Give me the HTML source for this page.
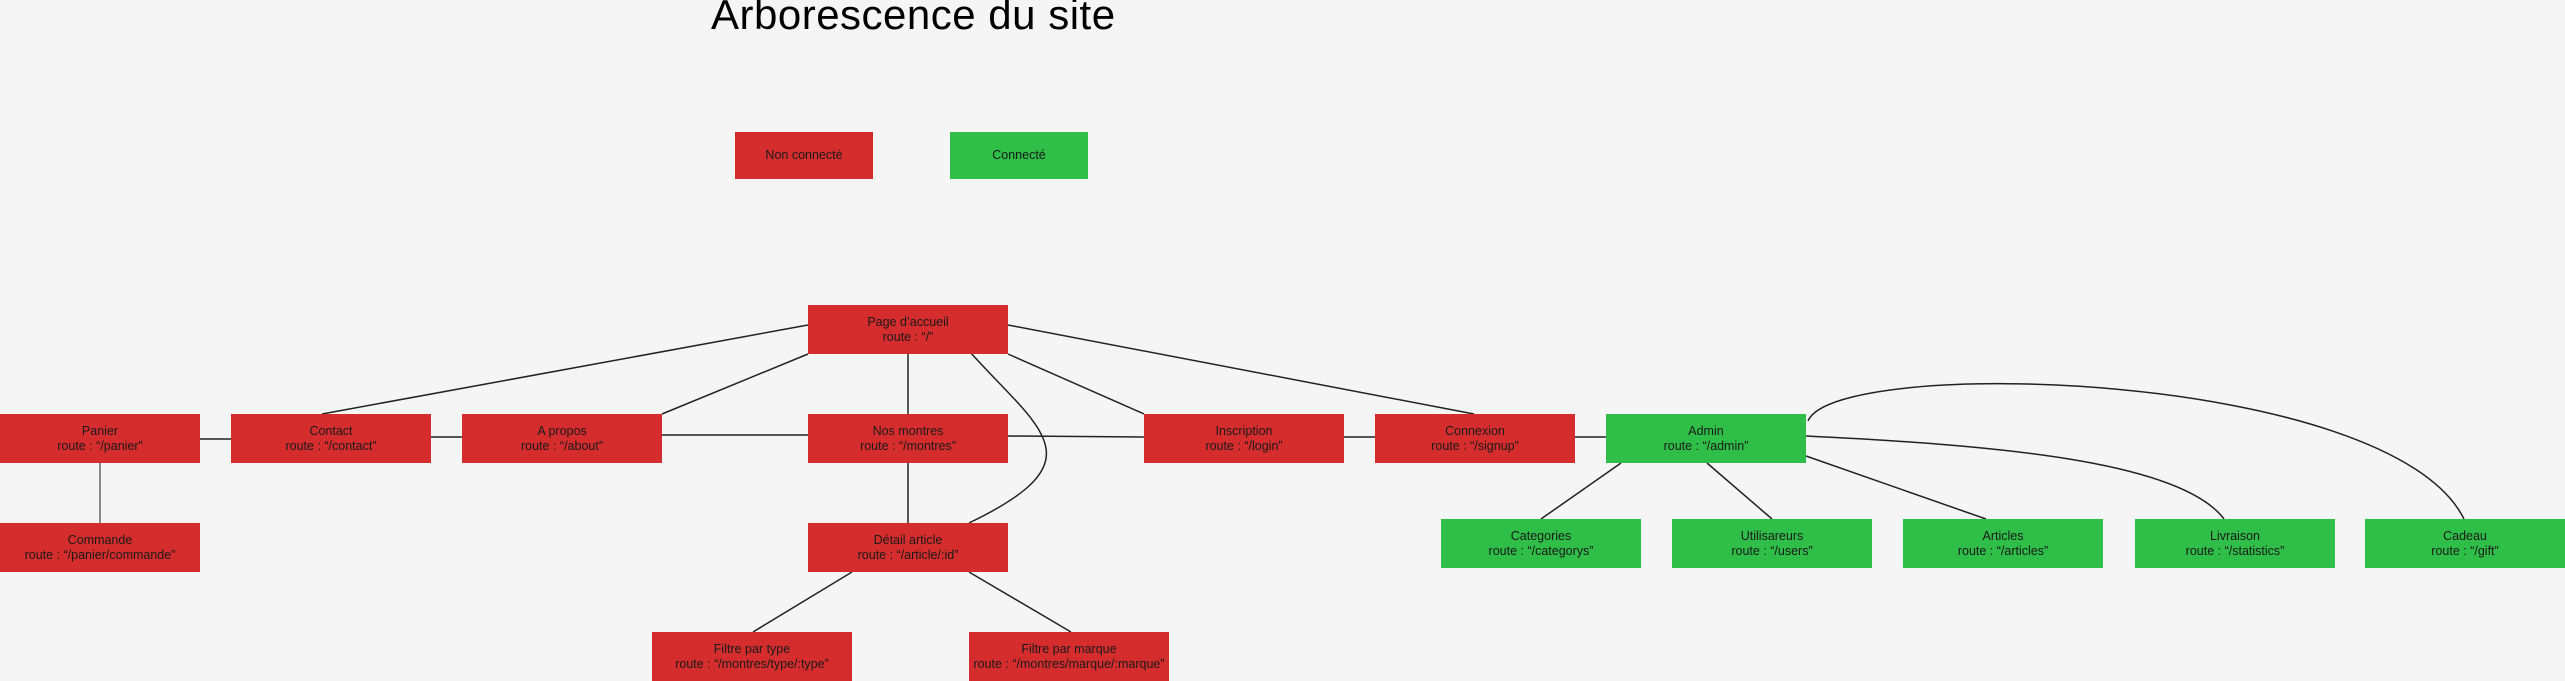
<!DOCTYPE html>
<html><head><meta charset="utf-8"><style>
body{margin:0;width:2565px;height:681px;background:#f5f5f5;overflow:hidden;position:relative;font-family:"Liberation Sans",sans-serif}
.b{position:absolute;width:200px;height:49px;display:flex;flex-direction:column;justify-content:center;align-items:center;font-size:12.5px;line-height:15px;color:#1a1a1a;text-align:center;white-space:nowrap}
.r{background:#d52d2d}.g{background:#2fbe48}
svg{position:absolute;left:0;top:0}
h1{position:absolute;left:711px;top:-10px;margin:0;font-weight:normal;font-size:42px;line-height:50px;color:#000;letter-spacing:0.5px}
</style></head><body>
<svg width="2565" height="681" fill="none" stroke="#222" stroke-width="1.5">
<line x1="808" y1="325" x2="322" y2="414"/>
<line x1="808" y1="354" x2="662" y2="414"/>
<line x1="908" y1="354" x2="908" y2="414"/>
<line x1="1008" y1="354" x2="1144" y2="414"/>
<line x1="1008" y1="325" x2="1474" y2="414"/>
<path d="M970 352 C1040 430 1100 460 969 523"/>
<line x1="200" y1="439" x2="231" y2="439"/>
<line x1="431" y1="437" x2="462" y2="437"/>
<line x1="662" y1="435" x2="808" y2="435"/>
<line x1="1008" y1="436" x2="1144" y2="437"/>
<line x1="1344" y1="437" x2="1375" y2="437"/>
<line x1="1575" y1="437" x2="1606" y2="437"/>
<line x1="100" y1="463" x2="100" y2="523" stroke-width="1"/>
<line x1="908" y1="463" x2="908" y2="523"/>
<line x1="852" y1="572" x2="753" y2="632"/>
<line x1="969" y1="572" x2="1071" y2="632"/>
<line x1="1621" y1="463" x2="1541" y2="519"/>
<line x1="1707" y1="463" x2="1772" y2="519"/>
<line x1="1806" y1="456" x2="1986" y2="519"/>
<path d="M1806 436 C1990 445 2180 460 2224 519"/>
<path d="M1808 421 C1835 355 2390 370 2464 519"/>
</svg>
<h1>Arborescence du site</h1>
<div class="b r" style="left:735px;top:132px;width:138px;height:47px">Non connecté</div>
<div class="b g" style="left:950px;top:132px;width:138px;height:47px">Connecté</div>
<div class="b r" style="left:808px;top:305px">Page d’accueil<br>route : “/”</div>
<div class="b r" style="left:0;top:414px">Panier<br>route : “/panier”</div>
<div class="b r" style="left:231px;top:414px">Contact<br>route : “/contact”</div>
<div class="b r" style="left:462px;top:414px">A propos<br>route : “/about”</div>
<div class="b r" style="left:808px;top:414px">Nos montres<br>route : “/montres”</div>
<div class="b r" style="left:1144px;top:414px">Inscription<br>route : “/login”</div>
<div class="b r" style="left:1375px;top:414px">Connexion<br>route : “/signup”</div>
<div class="b g" style="left:1606px;top:414px">Admin<br>route : “/admin”</div>
<div class="b r" style="left:0;top:523px">Commande<br>route : “/panier/commande”</div>
<div class="b r" style="left:808px;top:523px">Détail article<br>route : “/article/:id”</div>
<div class="b r" style="left:652px;top:632px">Filtre par type<br>route : “/montres/type/:type”</div>
<div class="b r" style="left:969px;top:632px">Filtre par marque<br>route : “/montres/marque/:marque”</div>
<div class="b g" style="left:1441px;top:519px">Categories<br>route : “/categorys”</div>
<div class="b g" style="left:1672px;top:519px">Utilisareurs<br>route : “/users”</div>
<div class="b g" style="left:1903px;top:519px">Articles<br>route : “/articles”</div>
<div class="b g" style="left:2135px;top:519px">Livraison<br>route : “/statistics”</div>
<div class="b g" style="left:2365px;top:519px">Cadeau<br>route : “/gift”</div>
</body></html>
